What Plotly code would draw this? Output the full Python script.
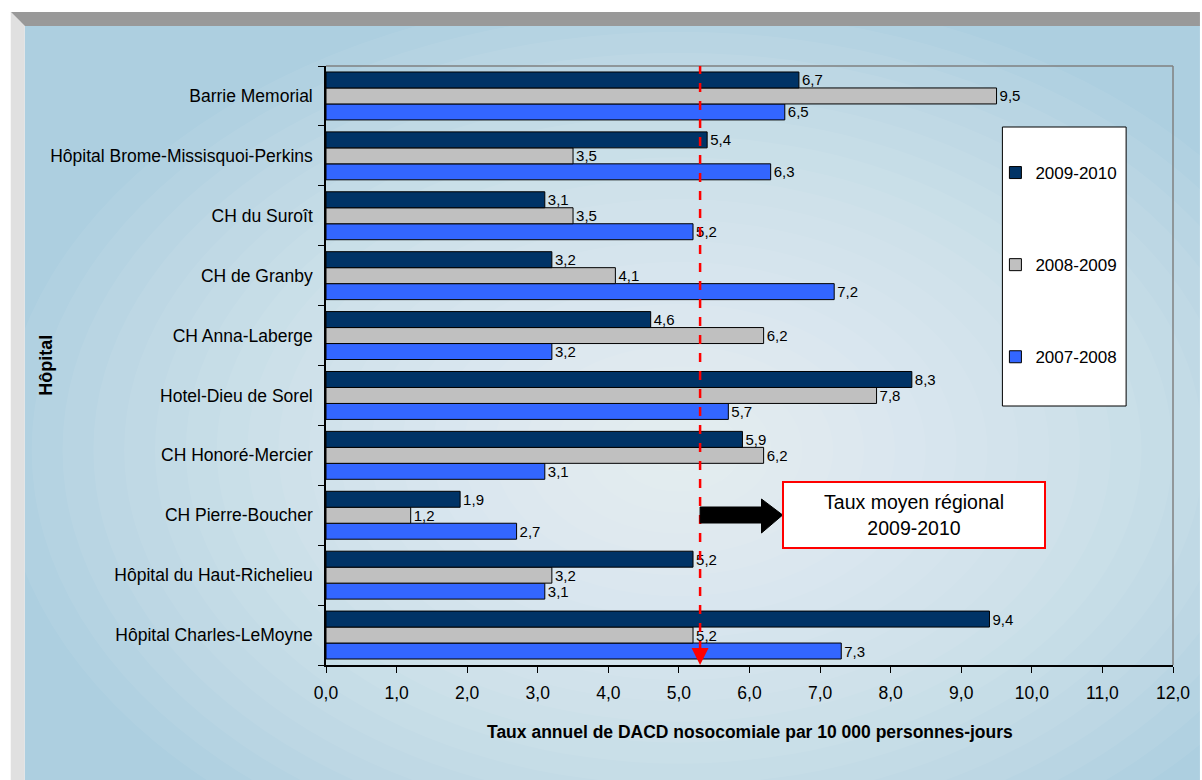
import plotly.graph_objects as go

# ---------------- data ----------------
hospitals = [
    "Barrie Memorial",
    "Hôpital Brome-Missisquoi-Perkins",
    "CH du Suroît",
    "CH de Granby",
    "CH Anna-Laberge",
    "Hotel-Dieu de Sorel",
    "CH Honoré-Mercier",
    "CH Pierre-Boucher",
    "Hôpital du Haut-Richelieu",
    "Hôpital Charles-LeMoyne",
]
rate_2009_2010 = [6.7, 5.4, 3.1, 3.2, 4.6, 8.3, 5.9, 1.9, 5.2, 9.4]
rate_2008_2009 = [9.5, 3.5, 3.5, 4.1, 6.2, 7.8, 6.2, 1.2, 3.2, 5.2]
rate_2007_2008 = [6.5, 6.3, 5.2, 7.2, 3.2, 5.7, 3.1, 2.7, 3.1, 7.3]
series_names = ["2007-2008", "2008-2009", "2009-2010"]
regional_mean_2009_2010 = 5.3
x_ticks = [0, 1, 2, 3, 4, 5, 6, 7, 8, 9, 10, 11, 12]
mean_label = "Taux moyen régional<br>2009-2010"
x_title = "Taux annuel de DACD nosocomiale par 10 000 personnes-jours"
y_title = "Hôpital"

# ---------------- geometry helpers ----------------
W, H = 1202, 780
L, R, T, B = 326, 1175, 66, 665


def px(X):
    return (X - L) / (R - L)


def py(Y):
    return (B - Y) / (B - T)


FONT = "Arial, 'Liberation Sans', sans-serif"
colors = {"2007-2008": "#3366FF", "2008-2009": "#C0C0C0", "2009-2010": "#003366"}
values = {"2007-2008": rate_2007_2008, "2008-2009": rate_2008_2009, "2009-2010": rate_2009_2010}
legend_rank = {"2009-2010": 1, "2008-2009": 2, "2007-2008": 3}

fig = go.Figure()
for name in series_names:
    fig.add_trace(go.Bar(
        y=hospitals,
        x=values[name],
        name=name,
        orientation="h",
        legendgroup=name,
        legendrank=legend_rank[name],
        marker=dict(color=colors[name], line=dict(color="#000000", width=1)),
        texttemplate="%{x:.1f}",
        textposition="outside",
        textfont=dict(size=15, color="#000000", family=FONT),
        constraintext="none",
        cliponaxis=False,
        hoverinfo="x+y+name",
    ))

shapes = []
# frame: blue panel, top gray bar, left light strip
shapes.append(dict(type="rect", xref="paper", yref="paper", x0=px(24), x1=px(W), y0=py(H), y1=py(26),
                   fillcolor="#ADCFE0", line=dict(width=0), layer="below"))
# radial-ish gradient from concentric translucent white ellipses
cx, cy, rx, ry = 680, 450, 680, 460
N = 22
for i in range(N):
    f = 1 - i / N
    shapes.append(dict(type="circle", xref="paper", yref="paper",
                       x0=px(cx - rx * f), x1=px(cx + rx * f),
                       y0=py(cy + ry * f), y1=py(cy - ry * f),
                       fillcolor="rgba(255,255,255,0.06)", line=dict(width=0), layer="below"))
# top gray bar
shapes.append(dict(type="path", xref="paper", yref="paper",
                   path=f"M {px(10)},{py(12)} L {px(W)},{py(12)} L {px(W)},{py(26)} L {px(24)},{py(26)} Z",
                   fillcolor="#999999", line=dict(width=0), layer="below"))
# left light strip
shapes.append(dict(type="path", xref="paper", yref="paper",
                   path=f"M {px(10)},{py(12)} L {px(24)},{py(26)} L {px(24)},{py(H)} L {px(10)},{py(H)} Z",
                   fillcolor="#E0E0E0", line=dict(width=0), layer="below"))
# plot area top / right border in gray
shapes.append(dict(type="line", xref="paper", yref="paper", x0=0, x1=1, y0=1, y1=1,
                   line=dict(color="#808080", width=1.5), layer="below"))
shapes.append(dict(type="line", xref="paper", yref="paper", x0=1, x1=1, y0=0, y1=1,
                   line=dict(color="#808080", width=1.5), layer="below"))
# legend box
shapes.append(dict(type="rect", xref="paper", yref="paper", x0=px(1004), x1=px(1128), y0=py(406), y1=py(127),
                   fillcolor="#FFFFFF", line=dict(color="#000000", width=1), layer="below"))
# dashed regional-mean line
shapes.append(dict(type="line", xref="x", yref="paper", x0=regional_mean_2009_2010, x1=regional_mean_2009_2010,
                   y0=py(650), y1=1, line=dict(color="#FF0000", width=2.5, dash="dash"), layer="above"))
# black block arrow pointing to the label
m = regional_mean_2009_2010
ya, yb = py(507), py(523)
yh1, yh2 = py(499), py(533)
shapes.append(dict(type="path", xref="x", yref="paper",
                   path=(f"M {m},{ya} L {m + 0.87},{ya} L {m + 0.87},{yh1} L {m + 1.17},{(ya + yb) / 2} "
                         f"L {m + 0.87},{yh2} L {m + 0.87},{yb} L {m},{yb} Z"),
                   fillcolor="#000000", line=dict(color="#000000", width=1), layer="above"))

annotations = [
    # red arrowhead at the bottom of the mean line
    dict(x=regional_mean_2009_2010, y=0, xref="x", yref="paper", ax=0, ay=-20, text="",
         showarrow=True, arrowhead=2, arrowsize=1.7, arrowwidth=2, arrowcolor="#FF0000", standoff=0),
    # mean label box
    dict(x=px(915), y=py(514.5), xref="paper", yref="paper", text=mean_label, showarrow=False,
         font=dict(size=19.5, color="#000000", family=FONT), bgcolor="#FFFFFF",
         bordercolor="#FF0000", borderwidth=2, width=258, height=62, align="center",
         xanchor="center", yanchor="middle"),
    # axis titles
    dict(x=0.5, y=py(732), xref="paper", yref="paper", text=f"<b>{x_title}</b>", showarrow=False,
         font=dict(size=17.5, color="#000000", family=FONT), xanchor="center", yanchor="middle"),
    dict(x=px(45), y=py(365), xref="paper", yref="paper", text=f"<b>{y_title}</b>", showarrow=False,
         textangle=-90, font=dict(size=18, color="#000000", family=FONT), xanchor="center", yanchor="middle"),
]

fig.update_layout(
    width=W, height=H,
    margin=dict(l=L, r=W - R, t=T, b=H - B, pad=0),
    paper_bgcolor="#FFFFFF",
    plot_bgcolor="rgba(0,0,0,0)",
    separators=", ",
    barmode="group",
    bargap=0.2,
    bargroupgap=0,
    font=dict(family=FONT, color="#000000", size=17),
    shapes=shapes,
    annotations=annotations,
    showlegend=True,
    legend=dict(
        x=px(997), y=py(155), xanchor="left", yanchor="top",
        bgcolor="rgba(0,0,0,0)", borderwidth=0,
        traceorder="grouped", tracegroupgap=67,
        font=dict(size=17, color="#000000", family=FONT),
    ),
    xaxis=dict(
        range=[0, 12], tickvals=x_ticks, tickformat=".1f",
        ticks="outside", ticklen=6, tickcolor="#000000", tickwidth=1,
        showline=True, linecolor="#000000", linewidth=1.5,
        showgrid=False, zeroline=False,
        tickfont=dict(size=17.5, color="#000000", family=FONT),
        ticklabelstandoff=5,
    ),
    yaxis=dict(
        type="category", categoryorder="array", categoryarray=hospitals[::-1],
        ticks="outside", tickson="boundaries", ticklen=6, tickcolor="#000000", tickwidth=1,
        showline=True, linecolor="#000000", linewidth=1.5,
        showgrid=False, zeroline=False,
        tickfont=dict(size=17.5, color="#000000", family=FONT),
        ticklabelstandoff=8,
    ),
)

fig.write_html("out.html")
